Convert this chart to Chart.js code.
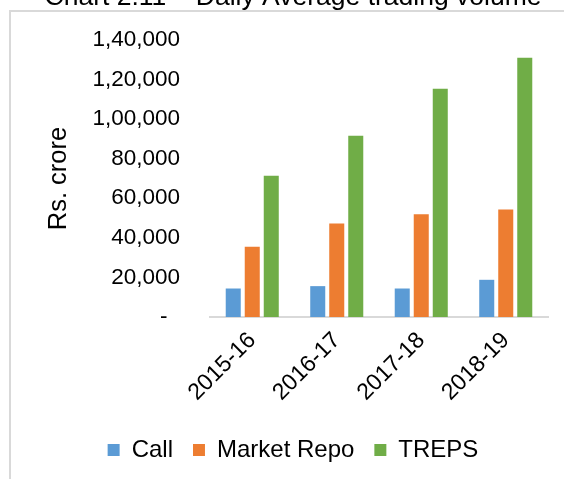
<!DOCTYPE html>
<html>
<head>
<meta charset="utf-8">
<script src="https://cdn.jsdelivr.net/npm/chart.js@4"></script>
<style>
  body { margin: 0; background: #fff; overflow: hidden; }
  #wrap { position: absolute; left: 0; top: -20px; width: 564px; height: 499px; }
  #frame {
    position: absolute; left: 9px; top: 10px; width: 600px; height: 600px;
    border-left: 2px solid #d9d9d9; border-top: 2px solid #d9d9d9;
    pointer-events: none;
  }
</style>
</head>
<body>
<div id="wrap"><canvas id="volumeChart"></canvas></div>
<div id="frame"></div>
<script>
// Daily average trading volume (Rs. crore)
const years = ["2015-16", "2016-17", "2017-18", "2018-19"];
const callVolume = [14400, 15600, 14400, 18800];
const repoVolume = [35500, 47200, 51900, 54300];
const trepsVolume = [71400, 91600, 115400, 131000];
const yTicks = [0, 20000, 40000, 60000, 80000, 100000, 120000, 140000];

const FONT = "'Liberation Sans', Arial, sans-serif";

// Indian digit grouping, zero shown as a dash
function indianFormat(v) {
  if (v === 0) return "-  ";
  const s = String(Math.round(v));
  if (s.length <= 3) return s;
  let last3 = s.slice(-3);
  let rest = s.slice(0, -3);
  rest = rest.replace(/\B(?=(\d{2})+(?!\d))/g, ",");
  return rest + "," + last3;
}

const ctx = document.getElementById("volumeChart");

new Chart(ctx, {
  type: "bar",
  data: {
    labels: years,
    datasets: [
      { label: "Call", data: callVolume, backgroundColor: "#5B9BD5" },
      { label: "Market Repo", data: repoVolume, backgroundColor: "#ED7D31" },
      { label: "TREPS", data: trepsVolume, backgroundColor: "#70AD47" }
    ]
  },
  options: {
    responsive: true,
    maintainAspectRatio: false,
    animation: false,
    categoryPercentage: 0.675,
    barPercentage: 0.79,
    layout: {
      padding: { left: 38, right: 16, top: 0, bottom: 7 }
    },
    scales: {
      x: {
        grid: { display: false },
        border: { display: true, color: "#d9d9d9", width: 2 },
        ticks: {
          color: "#000",
          font: { family: FONT, size: 23 },
          maxRotation: 45,
          minRotation: 45,
          padding: 2
        },
        afterFit: function(scale) { scale.height = 101; }
      },
      y: {
        min: 0,
        max: 140000,
        grid: { display: false, drawTicks: false },
        border: { display: false },
        afterBuildTicks: function(scale) {
          scale.ticks = yTicks.map(v => ({ value: v }));
        },
        ticks: {
          color: "#000",
          font: { family: FONT, size: 22.5 },
          padding: 30,
          callback: function(value) { return indianFormat(value); }
        },
        title: {
          display: true,
          text: "Rs. crore",
          color: "#000",
          font: { family: FONT, size: 25.5 },
          padding: { top: 6, bottom: 0 }
        },
        afterFit: function(scale) { scale.width = 172; }
      }
    },
    plugins: {
      title: {
        display: true,
        text: "Chart 2.11 \u2013 Daily Average trading volume",
        color: "#000",
        font: { family: FONT, size: 26.5, weight: "normal" },
        padding: { top: 2, bottom: 26.2 }
      },
      legend: {
        position: "bottom",
        labels: {
          color: "#000",
          font: { family: FONT, size: 24 },
          boxWidth: 12,
          boxHeight: 12,
          padding: 20
        }
      },
      tooltip: { enabled: false }
    }
  }
});
</script>
</body>
</html>
